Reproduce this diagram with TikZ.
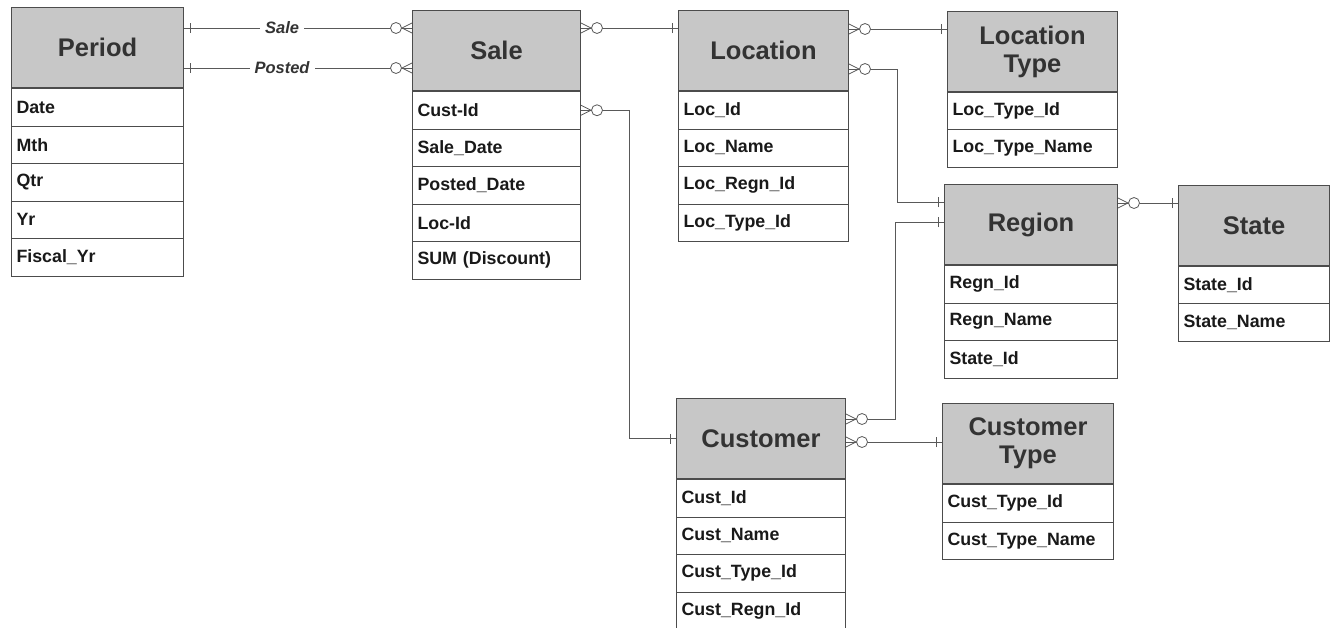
\documentclass[tikz,border=0pt]{standalone}
\usepackage{fontspec}
\setmainfont{Liberation Sans}
\usetikzlibrary{calc,decorations.markings}

\tikzset{
  entity/.style={draw=black!70, line width=1pt, fill=black!22, minimum width=#1,
    minimum height=80pt, inner sep=0pt, anchor=north west, align=center,
    text=black!80, font=\fontsize{25.5}{28}\selectfont\bfseries},
  attr/.style={draw=black!70, line width=1pt, fill=white, text width=#1,
    minimum height=37.5pt, inner xsep=5pt, inner ysep=0pt, anchor=north west,
    align=left, text=black!90, font=\fontsize{17.8}{20}\selectfont\bfseries},
  rel/.style={draw=black!65, line width=0.8pt},
  many/.style={rel, postaction=decorate, decoration={markings,
    mark=at position 0 with {\draw[rel] (0,5) -- (10,0) -- (0,-5);
      \filldraw[rel, fill=white] (16,0) circle (5.5);},
    mark=at position 1 with {\draw[rel] (-6,5) -- (-6,-5);}}},
  rolename/.style={fill=white, inner xsep=5pt, inner ysep=1pt, text=black!80,
    font=\fontsize{16.5}{18}\selectfont\bfseries\itshape}
}

\begin{document}
\begin{tikzpicture}[x=1pt, y=-1pt]
	\useasboundingbox (0,0) rectangle (1330,627);
	% Entitaeten
	\node[entity=172pt] (period) at (11,7) {Period};
	\foreach \f [count=\i] in {Date,Mth,Qtr,Yr,Fiscal\_Yr}
		\node[attr=162pt] (period-\i) at ([yshift={-37.5*(\i-1)}]period.south west) {\f};
	\node[entity=168pt] (sale) at (412,10) {Sale};
	\foreach \f [count=\i] in {Cust-Id,Sale\_Date,Posted\_Date,Loc-Id,SUM (Discount)}
		\node[attr=158pt] (sale-\i) at ([yshift={-37.5*(\i-1)}]sale.south west) {\f};
	\node[entity=170pt] (location) at (678,10) {Location};
	\foreach \f [count=\i] in {Loc\_Id,Loc\_Name,Loc\_Regn\_Id,Loc\_Type\_Id}
		\node[attr=160pt] (location-\i) at ([yshift={-37.5*(\i-1)}]location.south west) {\f};
	\node[entity=170pt] (loctype) at (947,11) {Location\\Type};
	\foreach \f [count=\i] in {Loc\_Type\_Id,Loc\_Type\_Name}
		\node[attr=160pt] (loctype-\i) at ([yshift={-37*(\i-1)}]loctype.south west) {\f};
	\node[entity=173pt] (region) at (944,184) {Region};
	\foreach \f [count=\i] in {Regn\_Id,Regn\_Name,State\_Id}
		\node[attr=163pt] (region-\i) at ([yshift={-37.5*(\i-1)}]region.south west) {\f};
	\node[entity=151pt] (state) at (1178,185) {State};
	\foreach \f [count=\i] in {State\_Id,State\_Name}
		\node[attr=141pt] (state-\i) at ([yshift={-37*(\i-1)}]state.south west) {\f};
	\node[entity=169pt] (customer) at (676,398) {Customer};
	\foreach \f [count=\i] in {Cust\_Id,Cust\_Name,Cust\_Type\_Id,Cust\_Regn\_Id}
		\node[attr=159pt] (customer-\i) at ([yshift={-37.5*(\i-1)}]customer.south west) {\f};
	\node[entity=171pt] (custtype) at (942,403) {Customer\\Type};
	\foreach \f [count=\i] in {Cust\_Type\_Id,Cust\_Type\_Name}
		\node[attr=161pt] (custtype-\i) at ([yshift={-37.5*(\i-1)}]custtype.south west) {\f};
	% Beziehungen
	\coordinate (s1) at ([yshift=-18pt]sale.north west);
	\coordinate (s2) at ([yshift=-58pt]sale.north west);
	\coordinate (s3) at ([yshift=-18pt]sale.north east);
	\coordinate (l1) at ([yshift=-19pt]location.north east);
	\coordinate (l2) at ([yshift=-59pt]location.north east);
	\coordinate (r1) at ([yshift=-18pt]region.north west);
	\coordinate (r2) at ([yshift=-38pt]region.north west);
	\coordinate (r3) at ([yshift=-19pt]region.north east);
	\coordinate (u1) at ([yshift=-21pt]customer.north east);
	\coordinate (u2) at ([yshift=-44pt]customer.north east);
	\draw[many] (s1) -- node[rolename, pos=0.57] {Sale} (s1 -| period.east);
	\draw[many] (s2) -- node[rolename, pos=0.57] {Posted} (s2 -| period.east);
	\draw[many] (s3) -- (s3 -| location.west);
	\draw[many] (l1) -- (l1 -| loctype.west);
	\draw[many] (l2) -| ([xshift=-47pt]r1) -- (r1);
	\draw[many] (u1) -| ([xshift=-49pt]r2) -- (r2);
	\draw[many] (sale-1.east) -- ++(48,0) |- (customer.west);
	\draw[many] (u2) -- (u2 -| custtype.west);
	\draw[many] (r3) -- (r3 -| state.west);
\end{tikzpicture}
\end{document}
